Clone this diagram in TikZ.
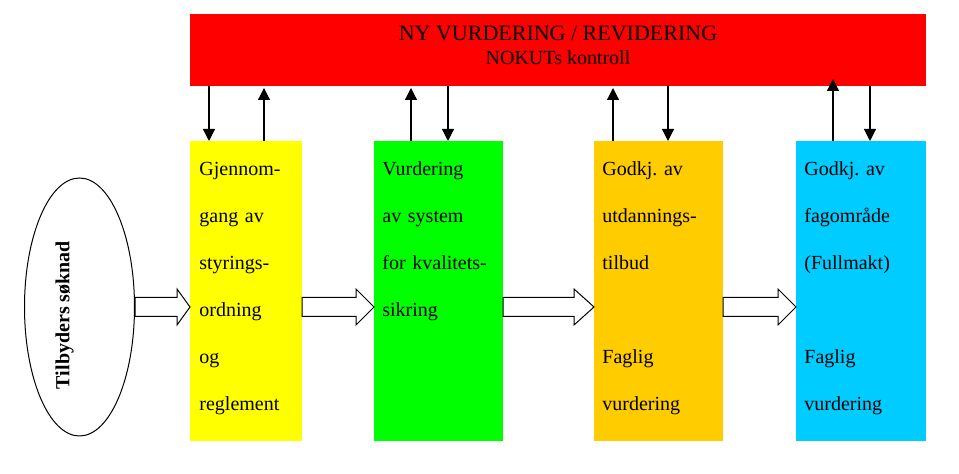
\documentclass[tikz,border=0pt]{standalone}
\usepackage{fontspec}
\setmainfont{Liberation Serif}
\usepackage{tikz}
\usetikzlibrary{shapes.geometric,arrows.meta,positioning,calc}
\frenchspacing

\definecolor{rod}{RGB}{255,0,0}
\definecolor{gul}{RGB}{255,255,0}
\definecolor{gronn}{RGB}{0,255,0}
\definecolor{oransje}{RGB}{255,204,0}
\definecolor{bla}{RGB}{0,204,255}

% Hul blokkpil fra #1 til #2, hodelengde #3
\newcommand{\blokkpil}[3]{%
  \draw[blokk] let \p1=(#1.east |- soknad.center), \p2=(#2.west |- soknad.center) in
    (\x1,\y1+4.75pt) -- (\x2-#3,\y1+4.75pt) -- (\x2-#3,\y1+9pt) -- (\x2,\y1)
    -- (\x2-#3,\y1-9pt) -- (\x2-#3,\y1-4.75pt) -- (\x1,\y1-4.75pt) -- cycle;}

\begin{document}
\begin{tikzpicture}[
        fase/.style={rectangle, draw=none, minimum height=150pt, inner sep=0pt, outer sep=0pt},
        tekst/.style={anchor=north west, inner sep=0pt, text width=58pt, align=left, font=\fontsize{10}{23.5}\selectfont},
        pil/.style={-{Triangle[width=6pt,length=6pt]}, line width=0.6pt},
        blokk/.style={draw, fill=white, line width=0.5pt, line join=miter}
    ]
        \useasboundingbox (0,0) rectangle (479.5pt,-237pt);

        % Faser
        \node[fase, fill=gul, minimum width=56pt, anchor=north west] (gjennomgang) at (95pt,-70.5pt) {};
        \node[fase, fill=gronn, minimum width=64.5pt, right=36pt of gjennomgang] (vurdering) {};
        \node[fase, fill=oransje, minimum width=64.5pt, right=45.5pt of vurdering] (godkjenning) {};
        \node[fase, fill=bla, minimum width=65pt, right=36.5pt of godkjenning] (fagomrade) {};

        % Kontroll
        \node[rectangle, fill=rod, minimum width=368pt, minimum height=36pt, inner sep=0pt, outer sep=0pt, anchor=south west] (kontroll) at ([yshift=27.5pt]gjennomgang.north west) {};
        \node[align=center, inner sep=0pt, font=\fontsize{10}{12}\selectfont] (kontroll-tekst) at ([yshift=2.5pt]kontroll.center) {{\fontsize{11}{12}\selectfont NY VURDERING / REVIDERING}\\NOKUTs kontroll};

        % Søknad
        \node[ellipse, draw, line width=0.5pt, minimum width=55pt, minimum height=129pt, inner sep=0pt, left=27.5pt of gjennomgang, yshift=-8pt] (soknad) {};
        \node[rotate=90, inner sep=0pt, font=\bfseries\fontsize{10}{12}\selectfont] (soknad-tekst) at ([xshift=-7.5pt,yshift=-4pt]soknad.center) {Tilbyders søknad};

        % Tekster
        \node[tekst] (gjennomgang-tekst) at ([xshift=4.5pt,yshift=-0.55pt]gjennomgang.north west) {\strut Gjennom-\\gang av\\styrings-\\ordning\\og\\reglement};
        \node[tekst] (vurdering-tekst) at ([xshift=4pt,yshift=-0.55pt]vurdering.north west) {\strut Vurdering\\av system\\for kvalitets-\\sikring};
        \node[tekst] (godkjenning-tekst) at ([xshift=4pt,yshift=-0.55pt]godkjenning.north west) {\strut Godkj. av\\utdannings-\\tilbud\\[23.5pt]Faglig\\vurdering};
        \node[tekst] (fagomrade-tekst) at ([xshift=4pt,yshift=-0.55pt]fagomrade.north west) {\strut Godkj. av\\fagområde\\(Fullmakt)\\[23.5pt]Faglig\\vurdering};

        % Blokkpiler
        \blokkpil{soknad}{gjennomgang}{6.5pt}
        \blokkpil{gjennomgang}{vurdering}{9pt}
        \blokkpil{vurdering}{godkjenning}{10pt}
        \blokkpil{godkjenning}{fagomrade}{9pt}

        % Piler til og fra kontroll
        \coordinate (g-ned) at ([xshift=9.5pt]gjennomgang.north west);
        \coordinate (g-opp) at ([xshift=37pt]gjennomgang.north west);
        \coordinate (v-opp) at ([xshift=18.5pt]vurdering.north west);
        \coordinate (v-ned) at ([xshift=37pt]vurdering.north west);
        \coordinate (u-opp) at ([xshift=9.5pt]godkjenning.north west);
        \coordinate (u-ned) at ([xshift=37pt]godkjenning.north west);
        \coordinate (f-opp) at ([xshift=18.5pt]fagomrade.north west);
        \coordinate (f-ned) at ([xshift=37pt]fagomrade.north west);

        \draw[pil] (g-ned |- kontroll.south) -- (g-ned);
        \draw[pil, shorten >=1pt] (g-opp) -- (g-opp |- kontroll.south);
        \draw[pil, shorten >=1pt] (v-opp) -- (v-opp |- kontroll.south);
        \draw[pil] (v-ned |- kontroll.south) -- (v-ned);
        \draw[pil, shorten >=1pt] (u-opp) -- (u-opp |- kontroll.south);
        \draw[pil] (u-ned |- kontroll.south) -- (u-ned);
        \draw[pil, shorten >=-3.5pt] (f-opp) -- (f-opp |- kontroll.south);
        \draw[pil] (f-ned |- kontroll.south) -- (f-ned);

    \end{tikzpicture}
\end{document}
